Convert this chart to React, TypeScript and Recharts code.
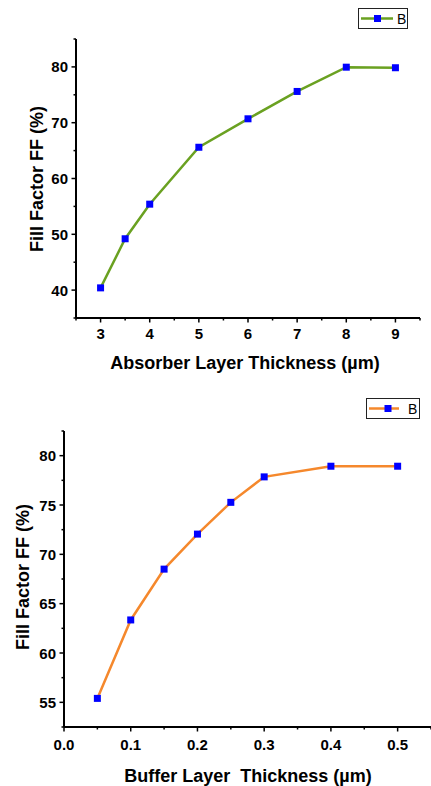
import React from "react";
import { LineChart, Line, XAxis, YAxis, Legend, Label } from "recharts";

// absorber layer sweep (top chart)
const absorberThickness = [3, 3.5, 4, 5, 6, 7, 8, 9];
const absorberFF = [40.4, 49.2, 55.4, 65.6, 70.7, 75.6, 79.95, 79.85];
const absorberXTicks = [2.5, 3, 3.5, 4, 4.5, 5, 5.5, 6, 6.5, 7, 7.5, 8, 8.5, 9, 9.5];
const absorberXLabels = [3, 4, 5, 6, 7, 8, 9];
const absorberYTicks = [35, 40, 45, 50, 55, 60, 65, 70, 75, 80, 85];
const absorberYLabels = [40, 50, 60, 70, 80];

// buffer layer sweep (bottom chart)
const bufferThickness = [0.05, 0.1, 0.15, 0.2, 0.25, 0.3, 0.4, 0.5];
const bufferFF = [55.4, 63.35, 68.5, 72.05, 75.27, 77.85, 78.93, 78.93];
const bufferXTicks = [0, 0.05, 0.1, 0.15, 0.2, 0.25, 0.3, 0.35, 0.4, 0.45, 0.5, 0.55];
const bufferXLabels = [0, 0.1, 0.2, 0.3, 0.4, 0.5];
const bufferYTicks = [52.5, 55, 57.5, 60, 62.5, 65, 67.5, 70, 72.5, 75, 77.5, 80, 82.5];
const bufferYLabels = [55, 60, 65, 70, 75, 80];

const FONT = "'Liberation Sans', Arial, sans-serif";

const absorberData = absorberThickness.map((x, i) => ({ x, B: absorberFF[i] }));
const bufferData = bufferThickness.map((x, i) => ({ x, B: bufferFF[i] }));

const makeXTick = (labels: number[], fmt: (v: number) => string, dy: number) => (props: any) => {
  const { x, y, payload } = props;
  const major = labels.includes(payload.value);
  return (
    <g>
      <line x1={x} y1={y} x2={x} y2={y + (major ? 4.5 : 2.5)} stroke="#000" strokeWidth={1.5} />
      {major && (
        <text x={x} y={y + dy} textAnchor="middle" fontSize={15} fontWeight="bold" fill="#000" fontFamily={FONT}>
          {fmt(payload.value)}
        </text>
      )}
    </g>
  );
};

const makeYTick = (labels: number[]) => (props: any) => {
  const { x, y, payload } = props;
  const major = labels.includes(payload.value);
  return (
    <g>
      <line x1={x} y1={y} x2={x - (major ? 4.5 : 2.5)} y2={y} stroke="#000" strokeWidth={1.5} />
      {major && (
        <text x={x - 8} y={y + 5.5} textAnchor="end" fontSize={15} fontWeight="bold" fill="#000" fontFamily={FONT}>
          {payload.value}
        </text>
      )}
    </g>
  );
};

const squareDot = (props: any) => {
  const { cx, cy, index } = props;
  return <rect key={index} x={cx - 3.5} y={cy - 3.5} width={7} height={7} fill="#0000ff" />;
};

const legendBox = (color: string, width: number, lineEnd: number, markX: number, textX: number) => () => (
  <div style={{ width, height: 21, border: "1px solid #222", boxSizing: "border-box", background: "#fff" }}>
    <svg width={width - 2} height={19} style={{ display: "block" }}>
      <line x1={2} y1={9.5} x2={lineEnd} y2={9.5} stroke={color} strokeWidth={2.5} />
      <rect x={markX - 3.5} y={6} width={7} height={7} fill="#0000ff" />
      <text x={textX} y={15} fontSize={14} fill="#000" fontFamily={FONT}>
        B
      </text>
    </svg>
  </div>
);

const axisLine = { stroke: "#000", strokeWidth: 2 };

export default function App() {
  return (
    <div style={{ position: "absolute", left: 0, top: 0, width: 431, height: 786, background: "#fff" }}>
      <div style={{ position: "absolute", left: 0, top: 0 }}>
        <LineChart width={431} height={390} data={absorberData} margin={{ top: 39, right: 11, bottom: 0, left: 0 }}>
          <XAxis
            dataKey="x"
            type="number"
            domain={[2.5, 9.5]}
            ticks={absorberXTicks}
            interval={0}
            height={72}
            axisLine={axisLine}
            tickLine={false}
            tickSize={0}
            tickMargin={0}
            tick={makeXTick(absorberXLabels, (v) => String(v), 21)}
          >
            <Label
              content={() => (
                <text x={245} y={369} textAnchor="middle" fontSize={18} fontWeight="bold" fill="#000" fontFamily={FONT}>
                  Absorber Layer Thickness (µm)
                </text>
              )}
            />
          </XAxis>
          <YAxis
            type="number"
            domain={[35, 85]}
            ticks={absorberYTicks}
            interval={0}
            width={76}
            axisLine={axisLine}
            tickLine={false}
            tickSize={0}
            tickMargin={0}
            tick={makeYTick(absorberYLabels)}
          >
            <Label
              content={() => (
                <text
                  x={37}
                  y={179}
                  transform="rotate(-90, 37, 179)"
                  textAnchor="middle"
                  dominantBaseline="central"
                  fontSize={18}
                  fontWeight="bold"
                  fill="#000"
                  fontFamily={FONT}
                >
                  Fill Factor FF (%)
                </text>
              )}
            />
          </YAxis>
          <Legend
            layout="vertical"
            align="center"
            verticalAlign="middle"
            wrapperStyle={{ left: 358, top: 8, width: 50, height: 21 }}
            content={legendBox("#6aa121", 50, 34, 18.5, 38)}
          />
          <Line
            dataKey="B"
            stroke="#6aa121"
            strokeWidth={2.5}
            dot={squareDot}
            activeDot={false}
            isAnimationActive={false}
          />
        </LineChart>
      </div>
      <div style={{ position: "absolute", left: 0, top: 390 }}>
        <LineChart width={431} height={396} data={bufferData} margin={{ top: 41, right: 0, bottom: 0, left: 0 }}>
          <XAxis
            dataKey="x"
            type="number"
            domain={[0, 0.55]}
            ticks={bufferXTicks}
            interval={0}
            height={59}
            axisLine={axisLine}
            tickLine={false}
            tickSize={0}
            tickMargin={0}
            tick={makeXTick(bufferXLabels, (v) => v.toFixed(1), 23)}
          >
            <Label
              content={() => (
                <text
                  x={248}
                  y={392}
                  textAnchor="middle"
                  fontSize={18}
                  fontWeight="bold"
                  fill="#000"
                  fontFamily={FONT}
                  style={{ whiteSpace: "pre" }}
                >
                  Buffer Layer  Thickness (µm)
                </text>
              )}
            />
          </XAxis>
          <YAxis
            type="number"
            domain={[52.5, 82.5]}
            ticks={bufferYTicks}
            interval={0}
            width={64}
            axisLine={axisLine}
            tickLine={false}
            tickSize={0}
            tickMargin={0}
            tick={makeYTick(bufferYLabels)}
          >
            <Label
              content={() => (
                <text
                  x={23}
                  y={187}
                  transform="rotate(-90, 23, 187)"
                  textAnchor="middle"
                  dominantBaseline="central"
                  fontSize={18}
                  fontWeight="bold"
                  fill="#000"
                  fontFamily={FONT}
                >
                  Fill Factor FF (%)
                </text>
              )}
            />
          </YAxis>
          <Legend
            layout="vertical"
            align="center"
            verticalAlign="middle"
            wrapperStyle={{ left: 366, top: 8, width: 54, height: 21 }}
            content={legendBox("#f5882c", 54, 32, 21, 41)}
          />
          <Line
            dataKey="B"
            stroke="#f5882c"
            strokeWidth={2.5}
            dot={squareDot}
            activeDot={false}
            isAnimationActive={false}
          />
        </LineChart>
      </div>
    </div>
  );
}
